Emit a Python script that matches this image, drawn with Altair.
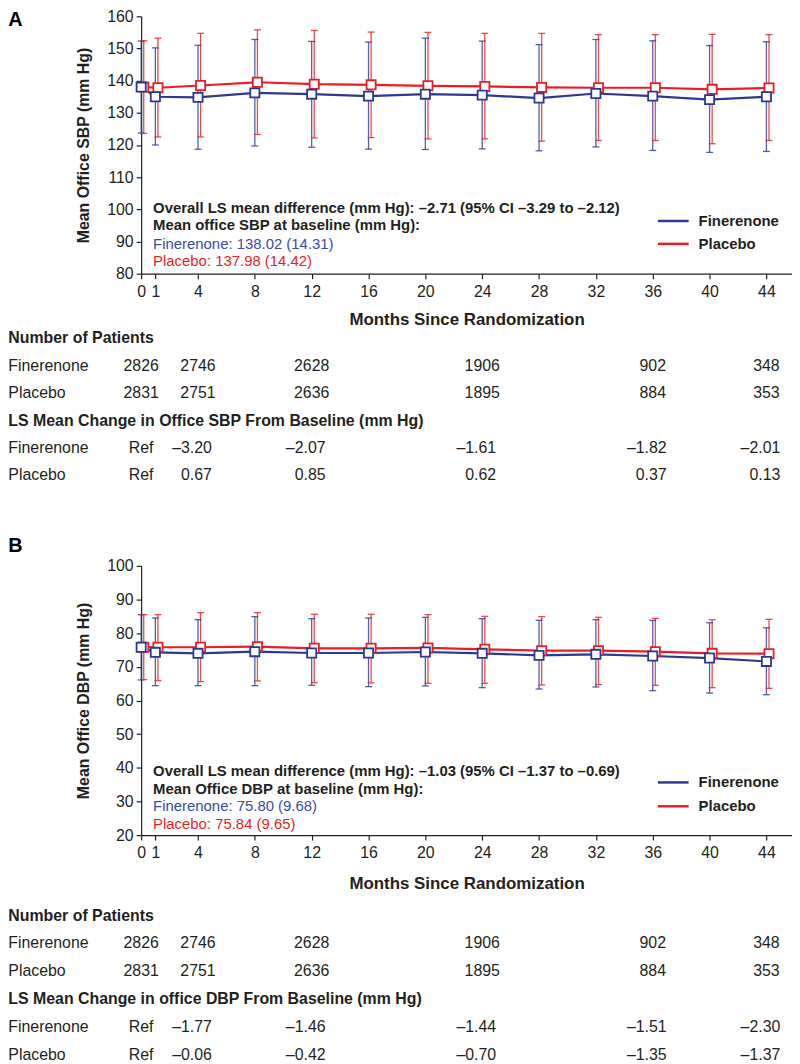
import altair as alt
import pandas as pd

# ---------------- data ----------------
months = [0, 1, 4, 8, 12, 16, 20, 24, 28, 32, 36, 40, 44]

# Panel A: office SBP (mm Hg) - mean, lower and upper whisker (mean +/- SD)
sbp_fin_mean = [138.0, 135.0, 134.8, 136.2, 135.8, 135.2, 135.8, 135.5, 134.6, 136.0, 135.2, 134.1, 135.0]
sbp_fin_lo = [123.7, 120.0, 118.7, 119.7, 119.3, 118.7, 118.6, 118.8, 118.2, 119.4, 118.3, 117.7, 118.0]
sbp_fin_hi = [152.3, 150.2, 151.0, 152.8, 152.2, 152.0, 153.2, 152.3, 151.2, 152.8, 152.4, 150.9, 152.1]
sbp_pla_mean = [138.0, 137.8, 138.5, 139.5, 138.9, 138.7, 138.4, 138.2, 137.9, 137.8, 137.8, 137.3, 137.7]
sbp_pla_lo = [123.6, 122.5, 122.5, 123.3, 122.2, 122.3, 121.9, 121.9, 121.2, 121.4, 121.4, 120.4, 121.4]
sbp_pla_hi = [152.4, 153.2, 154.7, 155.8, 155.6, 155.1, 155.0, 154.7, 154.7, 154.3, 154.3, 154.4, 154.3]

# Panel B: office DBP (mm Hg)
dbp_fin_mean = [75.8, 74.3, 74.0, 74.5, 74.1, 74.1, 74.4, 74.0, 73.4, 73.7, 73.2, 72.6, 71.6]
dbp_fin_lo = [66.1, 64.4, 64.4, 64.4, 64.5, 64.1, 64.3, 63.8, 63.4, 64.0, 62.9, 62.2, 61.7]
dbp_fin_hi = [85.5, 84.5, 84.0, 84.9, 84.3, 84.5, 84.7, 84.3, 83.8, 84.0, 83.8, 83.1, 81.6]
dbp_pla_mean = [75.8, 75.8, 75.8, 76.0, 75.5, 75.5, 75.6, 75.2, 74.8, 74.8, 74.5, 74.0, 73.9]
dbp_pla_lo = [66.2, 65.9, 65.6, 65.8, 65.3, 65.2, 65.1, 65.1, 64.6, 64.7, 64.5, 63.8, 63.6]
dbp_pla_hi = [85.5, 85.5, 86.1, 86.1, 85.6, 85.6, 85.5, 85.0, 84.9, 84.7, 84.4, 84.0, 84.1]

# Tables under the panels
table_months = [0, 4, 12, 24, 36, 44]
n_fin = [2826, 2746, 2628, 1906, 902, 348]
n_pla = [2831, 2751, 2636, 1895, 884, 353]
sbp_chg_fin = [None, -3.20, -2.07, -1.61, -1.82, -2.01]
sbp_chg_pla = [None, 0.67, 0.85, 0.62, 0.37, 0.13]
dbp_chg_fin = [None, -1.77, -1.46, -1.44, -1.51, -2.30]
dbp_chg_pla = [None, -0.06, -0.42, -0.70, -1.35, -1.37]

series = ["Finerenone", "Placebo"]

sbp_notes = [
    "Overall LS mean difference (mm Hg): \u20132.71 (95% CI \u20133.29 to \u20132.12)",
    "Mean office SBP at baseline (mm Hg):",
    "Finerenone: 138.02 (14.31)",
    "Placebo: 137.98 (14.42)",
]
dbp_notes = [
    "Overall LS mean difference (mm Hg): \u20131.03 (95% CI \u20131.37 to \u20130.69)",
    "Mean Office DBP at baseline (mm Hg):",
    "Finerenone: 75.80 (9.68)",
    "Placebo: 75.84 (9.65)",
]

# ---------------- styling ----------------
BLUE = "#2B3990"
BLUE_TXT = "#3B4BA8"
RED = "#ED1C24"
INK = "#231F20"
FONT = "Liberation Sans"
X_MAX = 45.8
W = 655
LEFT = -133.7


def fmt(v):
    return "Ref" if v is None else f"{v:.2f}".replace("-", "\u2013")


def panel(letter, letter_y, H, ydom, ytitle, fin, pla, notes, note_dy, chg_header,
          chg_fin, chg_pla, tbl_top, tbl_step, xt_pad, leg_dy):
    xscale = alt.Scale(domain=[0, X_MAX], nice=False, zero=False)
    xaxis = alt.Axis(values=months, title="Months Since Randomization", titlePadding=xt_pad,
                     labelFlush=False, labelOverlap=False, grid=False)
    X = alt.X("month:Q", scale=xscale, axis=xaxis)
    yscale = alt.Scale(domain=ydom, nice=False, zero=False)
    yaxis = alt.Axis(values=list(range(ydom[0], ydom[1] + 1, 10)), title=ytitle, grid=False,
                     labelFlush=False, labelOverlap=False)

    plot_layers = {}
    for key, (mean, lo, hi), color, off in [("f", fin, BLUE, 0), ("p", pla, RED, 2.6)]:
        df = pd.DataFrame({"month": months, "mean": mean, "lo": lo, "hi": hi})
        base = alt.Chart(df)
        bars = base.mark_rule(color=color, strokeWidth=1.3, opacity=0.8, xOffset=off).encode(
            x=X, y=alt.Y("lo:Q", scale=yscale, axis=yaxis), y2="hi:Q")
        caps = base.transform_fold(["lo", "hi"], as_=["k", "v"]).mark_tick(
            color=color, orient="horizontal", size=7, thickness=1.3, opacity=0.8, xOffset=off).encode(
            x=X, y=alt.Y("v:Q", scale=yscale, axis=yaxis))
        line = base.mark_line(color=color, strokeWidth=2.2, xOffset=off).encode(
            x=X, y=alt.Y("mean:Q", scale=yscale, axis=yaxis))
        pts = base.mark_point(shape="square", filled=True, fill="white", stroke=color,
                              strokeWidth=1.8, size=85, opacity=1, xOffset=off).encode(
            x=X, y=alt.Y("mean:Q", scale=yscale, axis=yaxis))
        plot_layers[key] = (bars, caps, line, pts)

    bf, cf, lf, pf = plot_layers["f"]
    bp, cp, lp, pp = plot_layers["p"]
    plot = alt.layer(bf, bp, cf, cp, lf, lp, pp, pf)

    # table below the axis
    lbl = pd.DataFrame({
        "row": [0, 1, 2, 3, 4, 5],
        "label": ["Number of Patients", "Finerenone", "Placebo", chg_header, "Finerenone", "Placebo"],
        "hdr": [1, 0, 0, 1, 0, 0],
    })
    recs = []
    for m, a, b in zip(table_months, n_fin, n_pla):
        recs.append({"month": m, "row": 1, "txt": str(a), "kind": "c"})
        recs.append({"month": m, "row": 2, "txt": str(b), "kind": "c"})
    for m, a, b in zip(table_months, chg_fin, chg_pla):
        recs.append({"month": m, "row": 4, "txt": fmt(a), "kind": "c" if a is None else "r"})
        recs.append({"month": m, "row": 5, "txt": fmt(b), "kind": "c" if b is None else "r"})
    nums = pd.DataFrame(recs)

    RY = alt.Y("row:Q", scale=alt.Scale(domain=[0, 5], range=[H + tbl_top, H + tbl_top + 5 * tbl_step],
                                        nice=False, zero=False), axis=None)
    lbl_h = alt.Chart(lbl).transform_filter("datum.hdr == 1").mark_text(
        align="left", baseline="middle", fontSize=16, fontWeight="bold", color=INK).encode(
        x=alt.value(LEFT), y=RY, text="label:N")
    lbl_n = alt.Chart(lbl).transform_filter("datum.hdr == 0").mark_text(
        align="left", baseline="middle", fontSize=16, color=INK).encode(
        x=alt.value(LEFT), y=RY, text="label:N")
    num_c = alt.Chart(nums).transform_filter("datum.kind == 'c'").mark_text(
        align="center", baseline="middle", fontSize=16, color=INK).encode(
        x=X, y=RY, text="txt:N")
    num_r = alt.Chart(nums).transform_filter("datum.kind == 'r'").mark_text(
        align="right", baseline="middle", fontSize=16, color=INK, dx=14).encode(
        x=X, y=RY, text="txt:N")
    table = alt.layer(lbl_h, lbl_n, num_c, num_r)

    # legend (drawn inside the plot)
    leg = pd.DataFrame({"name": series, "idx": [0, 1]})
    LY = alt.Y("idx:Q", scale=alt.Scale(domain=[0, 1], range=[H + leg_dy[0], H + leg_dy[1]],
                                        nice=False, zero=False), axis=None)
    lrule = alt.Chart(leg).mark_rule(strokeWidth=2.5).encode(
        x=alt.value(520), x2=alt.value(551), y=LY,
        color=alt.Color("name:N", scale=alt.Scale(domain=series, range=[BLUE, RED]), legend=None))
    ltext = alt.Chart(leg).mark_text(align="left", baseline="middle", fontSize=15,
                                     fontWeight="bold", color=INK).encode(
        x=alt.value(561), y=LY, text="name:N")
    legend = alt.layer(lrule, ltext)

    # annotation text
    styles = [(INK, "bold"), (INK, "bold"), (BLUE_TXT, "normal"), (RED, "normal")]
    note_layers = []
    for txt, (col, wt), dy in zip(notes, styles, note_dy):
        note_layers.append(
            alt.Chart(pd.DataFrame({"t": [txt]})).mark_text(
                align="left", baseline="middle", fontSize=15, fontWeight=wt, color=col).encode(
                x=alt.value(12), y=alt.value(H + dy), text="t:N"))
    letter_layer = alt.Chart(pd.DataFrame({"t": [letter]})).mark_text(
        align="left", baseline="middle", fontSize=20, fontWeight="bold", color="black").encode(
        x=alt.value(LEFT), y=alt.value(letter_y), text="t:N")

    return alt.layer(plot, table, legend, *note_layers, letter_layer).resolve_scale(
        y="independent").properties(width=W, height=H)


A = panel("A", 4, 259, [80, 160], "Mean Office SBP (mm Hg)",
          (sbp_fin_mean, sbp_fin_lo, sbp_fin_hi), (sbp_pla_mean, sbp_pla_lo, sbp_pla_hi),
          sbp_notes, [-66, -49, -30, -13],
          "LS Mean Change in Office SBP From Baseline (mm Hg)",
          sbp_chg_fin, sbp_chg_pla, 65, 27.6, 12, (-53, -30))
B = panel("B", -20, 271, [20, 100], "Mean Office DBP (mm Hg)",
          (dbp_fin_mean, dbp_fin_lo, dbp_fin_hi), (dbp_pla_mean, dbp_pla_lo, dbp_pla_hi),
          dbp_notes, [-64, -46, -29, -11],
          "LS Mean Change in office DBP From Baseline (mm Hg)",
          dbp_chg_fin, dbp_chg_pla, 81, 28, 15, (-53, -29))

chart = alt.vconcat(A, B, spacing=53).properties(
    padding={"left": 0, "right": 0, "top": -3, "bottom": 0}
).configure(font=FONT).configure_view(stroke=None).configure_axis(
    labelFont=FONT, titleFont=FONT, labelFontSize=16, labelColor=INK, titleColor=INK,
    domainColor=INK, tickColor=INK, tickSize=5, domainWidth=1.2, tickWidth=1.2,
).configure_axisX(
    labelPadding=5, titleFontSize=17, titleFontWeight="bold"
).configure_axisY(
    labelPadding=3, titleFontSize=16, titleFontWeight="bold", titlePadding=15
)

chart.save("out.html", embed_options={"renderer": "svg", "actions": False})
